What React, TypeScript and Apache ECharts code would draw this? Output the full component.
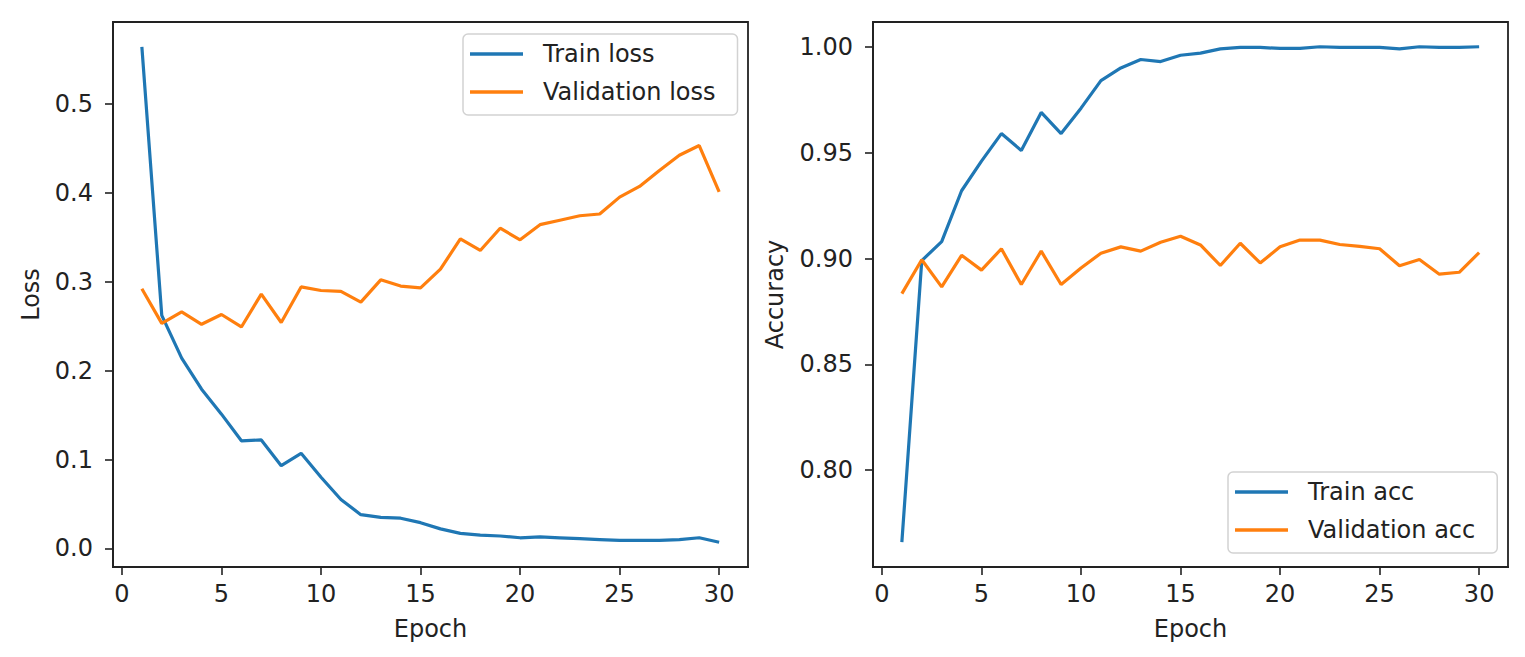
import React, { useEffect, useRef } from "react";
import * as echarts from "echarts";

// ---- data ----
const epochs = [1, 2, 3, 4, 5, 6, 7, 8, 9, 10, 11, 12, 13, 14, 15, 16, 17, 18, 19, 20, 21, 22, 23, 24, 25, 26, 27, 28, 29, 30];

const trainLoss = [0.564, 0.262, 0.214, 0.179, 0.151, 0.121, 0.122, 0.093, 0.107, 0.080, 0.055, 0.038, 0.035, 0.034, 0.029, 0.022, 0.017, 0.015, 0.014, 0.012, 0.013, 0.012, 0.011, 0.010, 0.009, 0.009, 0.009, 0.010, 0.012, 0.007];
const valLoss = [0.292, 0.253, 0.266, 0.252, 0.263, 0.249, 0.286, 0.254, 0.294, 0.290, 0.289, 0.277, 0.302, 0.295, 0.293, 0.314, 0.348, 0.335, 0.360, 0.347, 0.364, 0.369, 0.374, 0.376, 0.395, 0.407, 0.425, 0.442, 0.453, 0.401];

const trainAcc = [0.766, 0.899, 0.908, 0.932, 0.946, 0.959, 0.951, 0.969, 0.959, 0.971, 0.984, 0.990, 0.994, 0.993, 0.996, 0.997, 0.999, 0.9997, 0.9997, 0.9992, 0.9992, 1.0, 0.9997, 0.9997, 0.9997, 0.999, 1.0, 0.9997, 0.9997, 1.0];
const valAcc = [0.8834, 0.8994, 0.8866, 0.9015, 0.8945, 0.9046, 0.8877, 0.9035, 0.8877, 0.8955, 0.9025, 0.9055, 0.9035, 0.9077, 0.9105, 0.9064, 0.8967, 0.9072, 0.8979, 0.9055, 0.9087, 0.9087, 0.9066, 0.9057, 0.9046, 0.8966, 0.8995, 0.8926, 0.8935, 0.9028];

const xTicks = [0, 5, 10, 15, 20, 25, 30];
const lossTicks = [0.0, 0.1, 0.2, 0.3, 0.4, 0.5];
const accTicks = [0.8, 0.85, 0.9, 0.95, 1.0];

const lossNames = ["Train loss", "Validation loss"];
const accNames = ["Train acc", "Validation acc"];
const xName = "Epoch";
const lossAxisName = "Loss";
const accAxisName = "Accuracy";

// ---- helpers ----
const BLUE = "#1f77b4";
const ORANGE = "#ff7f0e";
const FONT = "DejaVu Sans";
const TXT = "#222";
const FS = 24;

function extent(arrs: number[][]): [number, number] {
  const all = arrs.flat();
  const mn = Math.min(...all);
  const mx = Math.max(...all);
  const pad = (mx - mn) * 0.05;
  return [mn - pad, mx + pad];
}

const pairs = (ys: number[]) => epochs.map((e, i) => [e, ys[i]]);

export default function App() {
  const ref = useRef<HTMLDivElement>(null);
  useEffect(() => {
    document.body.style.margin = "0";
    if (!ref.current) return;
    const chart = echarts.init(ref.current, undefined, { renderer: "svg" });
    const xExt = extent([epochs]);
    const lossExt = extent([trainLoss, valLoss]);
    const accExt = extent([trainAcc, valAcc]);

    const gridBase = {
      top: 22,
      width: 635,
      height: 545,
      show: true,
      borderColor: "#222",
      borderWidth: 1.8,
      backgroundColor: "transparent",
    };

    const xAxisBase = (gi: number) => ({
      type: "value",
      gridIndex: gi,
      min: xExt[0],
      max: xExt[1],
      name: xName,
      nameLocation: "middle",
      nameGap: 50,
      nameTextStyle: { fontSize: FS, fontFamily: FONT, color: TXT },
      axisLine: { show: true, onZero: false, lineStyle: { color: "#222", width: 1.8 } },
      axisTick: { show: true, length: 8, customValues: xTicks, lineStyle: { color: "#222", width: 1.6 } },
      axisLabel: {
        customValues: xTicks,
        margin: 15,
        fontSize: FS,
        fontFamily: FONT,
        color: TXT,
        formatter: (v: number) => String(v),
      },
      splitLine: { show: false },
    });

    const yAxisBase = (gi: number, ext: [number, number], ticks: number[], digits: number, name: string, gap: number) => ({
      type: "value",
      gridIndex: gi,
      min: ext[0],
      max: ext[1],
      name,
      nameLocation: "middle",
      nameGap: gap,
      nameTextStyle: { fontSize: FS, fontFamily: FONT, color: TXT },
      axisLine: { show: true, onZero: false, lineStyle: { color: "#222", width: 1.8 } },
      axisTick: { show: true, length: 8, customValues: ticks, lineStyle: { color: "#222", width: 1.6 } },
      axisLabel: {
        customValues: ticks,
        margin: 20,
        fontSize: FS,
        fontFamily: FONT,
        color: TXT,
        formatter: (v: number) => v.toFixed(digits),
      },
      splitLine: { show: false },
    });

    const legendBase = {
      orient: "vertical",
      icon: "rect",
      itemWidth: 53,
      itemHeight: 3.5,
      itemGap: 10,
      padding: [6, 22, 9, 7],
      borderColor: "#d2d2d2",
      borderWidth: 1.5,
      borderRadius: 5,
      backgroundColor: "rgba(255,255,255,0.8)",
      textStyle: { fontSize: FS, fontFamily: FONT, color: TXT, lineHeight: 28, padding: [0, 0, 0, 15] },
      selectedMode: false,
    };

    const lineSeries = (name: string, ys: number[], color: string, gi: number) => ({
      type: "line",
      name,
      xAxisIndex: gi,
      yAxisIndex: gi,
      data: pairs(ys),
      symbol: "none",
      color,
      lineStyle: { color, width: 3.2 },
    });

    chart.setOption({
      animation: false,
      backgroundColor: "#fff",
      grid: [
        { ...gridBase, left: 113 },
        { ...gridBase, left: 873 },
      ],
      xAxis: [xAxisBase(0), xAxisBase(1)],
      yAxis: [
        yAxisBase(0, lossExt, lossTicks, 1, lossAxisName, 70),
        yAxisBase(1, accExt, accTicks, 2, accAxisName, 86),
      ],
      legend: [
        { ...legendBase, data: lossNames, left: 463, top: 34 },
        { ...legendBase, data: accNames, left: 1228, top: 472 },
      ],
      series: [
        lineSeries(lossNames[0], trainLoss, BLUE, 0),
        lineSeries(lossNames[1], valLoss, ORANGE, 0),
        lineSeries(accNames[0], trainAcc, BLUE, 1),
        lineSeries(accNames[1], valAcc, ORANGE, 1),
      ],
    });
    return () => chart.dispose();
  }, []);
  return <div ref={ref} style={{ width: 1525, height: 657 }} />;
}
